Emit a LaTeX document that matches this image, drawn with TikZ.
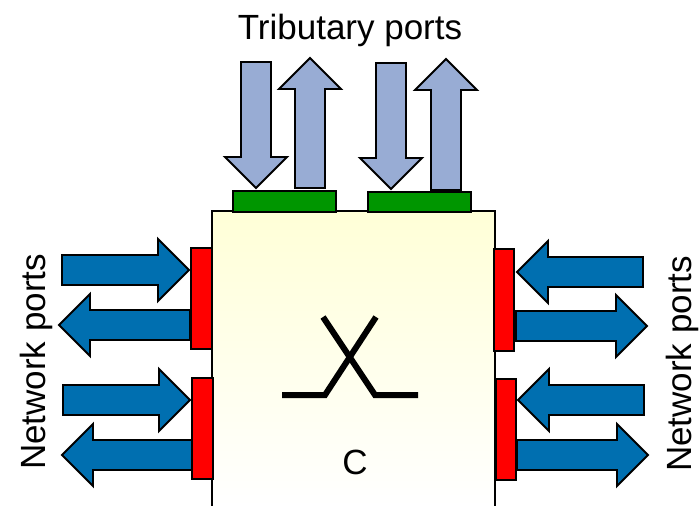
\documentclass[tikz,border=0pt]{standalone}
\usepackage{fontspec}
\setmainfont{Liberation Sans}
\definecolor{portblue}{RGB}{0,111,176}
\definecolor{tribblue}{RGB}{152,172,212}
\definecolor{portgreen}{RGB}{0,150,0}
\definecolor{boxyellow}{RGB}{255,255,215}
\tikzset{
  pics/blkarrow/.style 2 args={code={
    \draw[line width=1.9pt, fill=#2, line join=miter] (0,-15) -- (#1-31,-15) -- (#1-31,-31) -- (#1,0) -- (#1-31,31) -- (#1-31,15) -- (0,15) -- cycle;
  }},
  portbox/.style={line width=1.4pt},
  bigtext/.style={font=\fontsize{35}{40}\selectfont},
  sidetext/.style={font=\fontsize{35}{40}\selectfont, rotate=90, anchor=base},
}
\begin{document}
\begin{tikzpicture}[x=1pt, y=-1pt]
    \useasboundingbox (0,0) rectangle (699,506);

    %disegno nodo
    \shade[top color=boxyellow, bottom color=white] (212,211) rectangle (495,506);
    \draw[line width=1.3pt] (212,507) -- (212,211) -- (495,211) -- (495,507);

    %frecce porte di rete, lato sinistro
    \pic at (62,270) {blkarrow={127}{portblue}};
    \pic[rotate=180] at (190,325) {blkarrow={131}{portblue}};
    \pic at (63,400) {blkarrow={127}{portblue}};
    \pic[rotate=180] at (192,455) {blkarrow={130}{portblue}};

    %frecce porte di rete, lato destro
    \pic[rotate=180] at (643,272) {blkarrow={126}{portblue}};
    \pic at (516,326) {blkarrow={131}{portblue}};
    \pic[rotate=180] at (644,400) {blkarrow={126}{portblue}};
    \pic at (517,455) {blkarrow={131}{portblue}};

    %frecce porte tributarie
    \pic[rotate=-90] at (256,62) {blkarrow={126}{tribblue}};
    \pic[rotate=90] at (310,188) {blkarrow={130}{tribblue}};
    \pic[rotate=-90] at (391,63) {blkarrow={126}{tribblue}};
    \pic[rotate=90] at (446,190) {blkarrow={131}{tribblue}};

    %porte
    \draw[portbox, fill=red] (191,248) rectangle (212,349);
    \draw[portbox, fill=red] (192,378) rectangle (213,479);
    \draw[portbox, fill=red] (494,249) rectangle (514,351);
    \draw[portbox, fill=red] (496,379) rectangle (516,480);
    \draw[portbox, fill=portgreen] (233,191) rectangle (336,212);
    \draw[portbox, fill=portgreen] (368,192) rectangle (471,212);

    %simbolo di commutazione
    \draw[line width=6pt] (282,395) -- (325,395) -- (376,317);
    \draw[line width=6pt] (323,317) -- (375,395) -- (418,395);

    %testi
    \node[bigtext, anchor=base] (trib) at (350,39) {Tributary ports};
    \node[sidetext] (netl) at (45,362) {Network ports};
    \node[sidetext] (netr) at (691,364) {Network ports};
    \node[bigtext, anchor=base] (conn) at (355,474) {C};
\end{tikzpicture}
\end{document}
